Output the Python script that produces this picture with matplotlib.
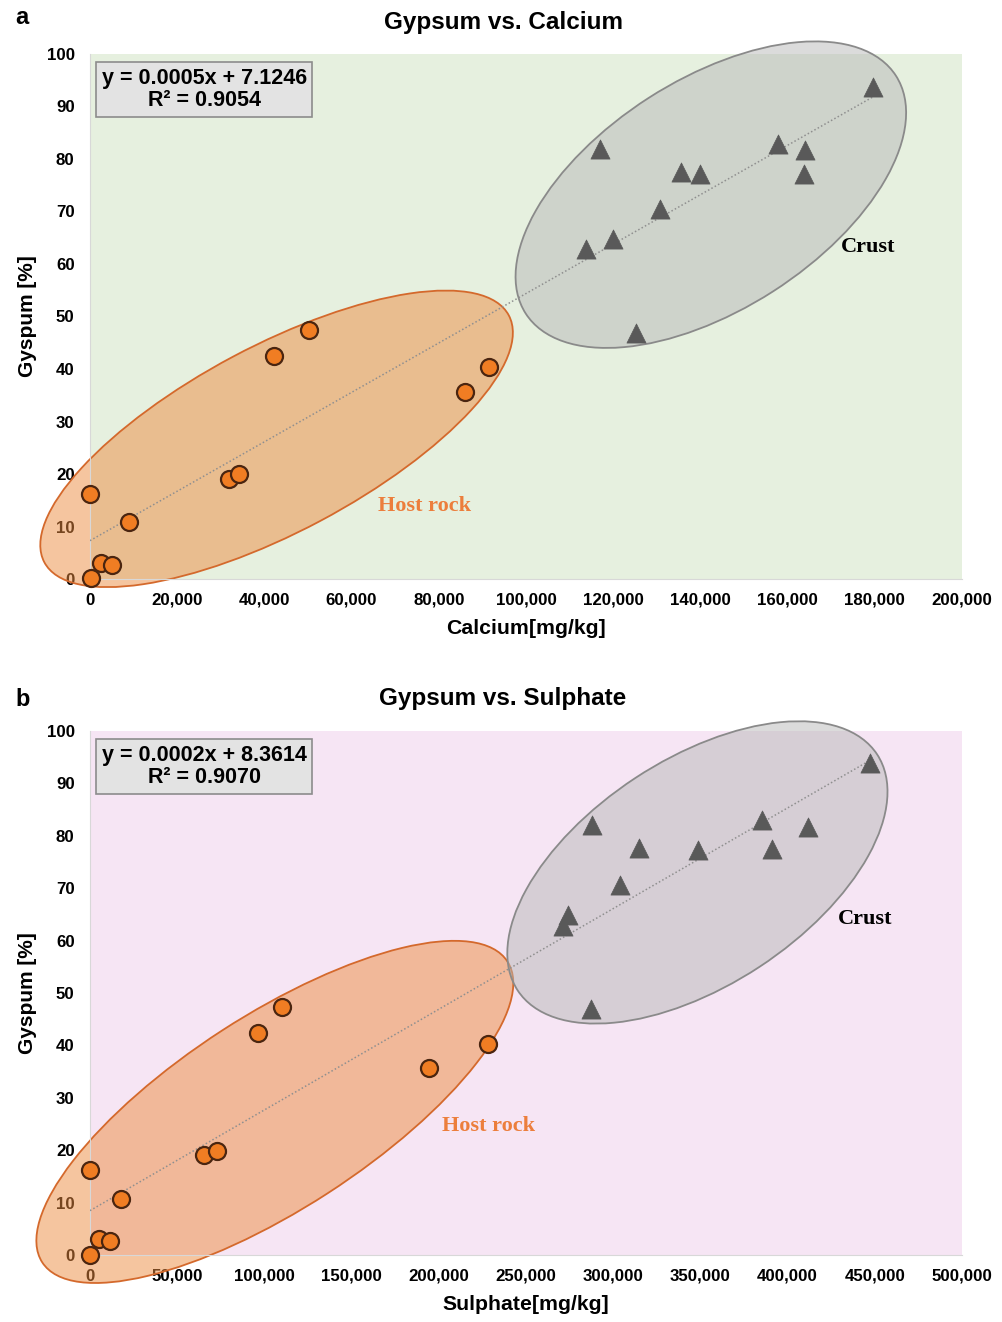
import numpy as np
import matplotlib
matplotlib.use('Agg')
import matplotlib.pyplot as plt
from matplotlib.patches import Ellipse
from matplotlib.transforms import ScaledTranslation
from matplotlib.ticker import FuncFormatter

plt.rcParams['font.family'] = ['Liberation Sans', 'DejaVu Sans']

# panel a: calcium
ca_host = [200, 0, 2500, 5000, 9000, 32000, 34200, 42200, 50200, 86000, 91500]
gyp_host_a = [0.2, 16.2, 3.0, 2.7, 10.9, 19.0, 20.0, 42.5, 47.4, 35.6, 40.4]
ca_crust = [117000, 135500, 139900, 130700, 120000, 113700, 125200, 157800, 164000, 163800, 179600]
gyp_crust_a = [81.9, 77.5, 77.1, 70.5, 64.8, 62.9, 46.9, 82.9, 81.7, 77.1, 93.7]

# panel b: sulphate
so4_host = [0, 0, 5300, 11500, 17600, 65400, 72600, 96500, 110300, 194500, 228000]
gyp_host_b = [0.0, 16.2, 3.1, 2.7, 10.7, 19.0, 19.9, 42.4, 47.4, 35.6, 40.3]
so4_crust = [287700, 315000, 348900, 304000, 274300, 271000, 287300, 385500, 411900, 391200, 447200]
gyp_crust_b = [82.1, 77.6, 77.3, 70.6, 64.9, 62.8, 47.0, 83.0, 81.7, 77.5, 93.8]

eq_a = ['y = 0.0005x + 7.1246', 'R² = 0.9054']
eq_b = ['y = 0.0002x + 8.3614', 'R² = 0.9070']

# ellipses: centre (data), semi axes (px), angle (deg)
ell_a = [((42800, 26.7), 263, 93, 28), ((142400, 73.2), 220, 115, 32.7)]
ell_b = [((106000, 27.3), 277, 97, 32.9), ((348300, 73.0), 215, 113, 33.3)]

fig = plt.figure(figsize=(10.03, 13.22), dpi=100)

def panel(rect, xh, yh, xc, yc, xmax, xstep, bg, eq, ells, title, xlabel, tag, host_lbl, crust_lbl, title_y, tag_y):
    ax = fig.add_axes(rect)
    ax.set_facecolor(bg)
    ax.set_xlim(0, xmax)
    ax.set_ylim(0, 100)
    ax.set_xticks(np.arange(0, xmax + 1, xstep))
    ax.set_yticks(np.arange(0, 101, 10))
    ax.xaxis.set_major_formatter(FuncFormatter(lambda v, p: f'{int(v):,}'))
    ax.tick_params(axis='x', length=0, labelsize=12.2, pad=10)
    ax.tick_params(axis='y', length=0, labelsize=12.2, pad=11)
    for t in ax.get_xticklabels() + ax.get_yticklabels():
        t.set_fontweight('bold')
    for s in ['top', 'right']:
        ax.spines[s].set_visible(False)
    for s in ['left', 'bottom']:
        ax.spines[s].set_color('#d8d8d8')

    # ellipses
    fills = [((0.93, 0.55, 0.25, 0.5), '#d4692c'), ((0.72, 0.72, 0.72, 0.5), '#8a8a8a')]
    for (c, A, B, ang), (fc, ec) in zip(ells, fills):
        tr = fig.dpi_scale_trans + ScaledTranslation(c[0], c[1], ax.transData)
        e = Ellipse((0, 0), 2 * A / 100, 2 * B / 100, angle=ang, transform=tr,
                    facecolor=fc, edgecolor=ec, lw=1.3, zorder=2, clip_on=False)
        ax.add_patch(e)

    # trend line
    xs = np.array(xh + xc, dtype=float)
    ys = np.array(yh + yc, dtype=float)
    k, b = np.polyfit(xs, ys, 1)
    xl = np.array([0, xs.max()])
    ax.plot(xl, k * xl + b, ls=(0, (1, 1.5)), color='#8f8f8f', lw=1.1, zorder=3)

    ax.scatter(xh, yh, s=150, marker='o', facecolor='#f07d23', edgecolor='#4a2510',
               lw=1.6, zorder=4, clip_on=False)
    ax.scatter(xc, yc, s=190, marker='^', facecolor='#595959', edgecolor='#595959',
               lw=0.5, zorder=4)

    ax.text(0.131, 0.932, eq[0] + '\n' + eq[1], transform=ax.transAxes, ha='center', va='center',
            fontsize=15.5, fontweight='bold', linespacing=1.1, multialignment='center',
            bbox=dict(boxstyle='square,pad=0.25', facecolor='#e3e3e3', edgecolor='#8c8c8c', lw=1.2),
            zorder=6)

    ax.text(host_lbl[0], host_lbl[1], 'Host rock', transform=ax.transAxes, ha='center', va='center',
            fontsize=16, fontweight='bold', color='#ec7e3c', family=['Liberation Serif', 'DejaVu Serif'],
            zorder=5)
    ax.text(crust_lbl[0], crust_lbl[1], 'Crust', transform=ax.transAxes, ha='center', va='center',
            fontsize=16, fontweight='bold', color='black', family=['Liberation Serif', 'DejaVu Serif'],
            zorder=5)

    fig.text(503 / 1003, title_y, title, fontsize=17.5, fontweight='bold', ha='center', va='center')
    ax.set_xlabel(xlabel, fontsize=15.3, fontweight='bold', labelpad=8)
    ax.set_ylabel('Gyspum [%]', fontsize=15, fontweight='bold', labelpad=7)
    fig.text(0.015, tag_y, tag, fontsize=17, fontweight='bold', va='center')
    return ax

panel([0.0897, 0.562, 0.8694, 0.3972], ca_host, gyp_host_a, ca_crust, gyp_crust_a, 200000, 20000,
      '#e6f0df', eq_a, ell_a, 'Gypsum vs. Calcium', 'Calcium[mg/kg]', 'a',
      (0.384, 0.139), (0.892, 0.632), 1 - 23 / 1322, 1 - 18 / 1322)
panel([0.0897, 0.0507, 0.8694, 0.3964], so4_host, gyp_host_b, so4_crust, gyp_crust_b, 500000, 50000,
      '#f6e5f4', eq_b, ell_b, 'Gypsum vs. Sulphate', 'Sulphate[mg/kg]', 'b',
      (0.457, 0.247), (0.889, 0.641), 1 - 699 / 1322, 1 - 700 / 1322)

fig.savefig('out.png', dpi=100)
